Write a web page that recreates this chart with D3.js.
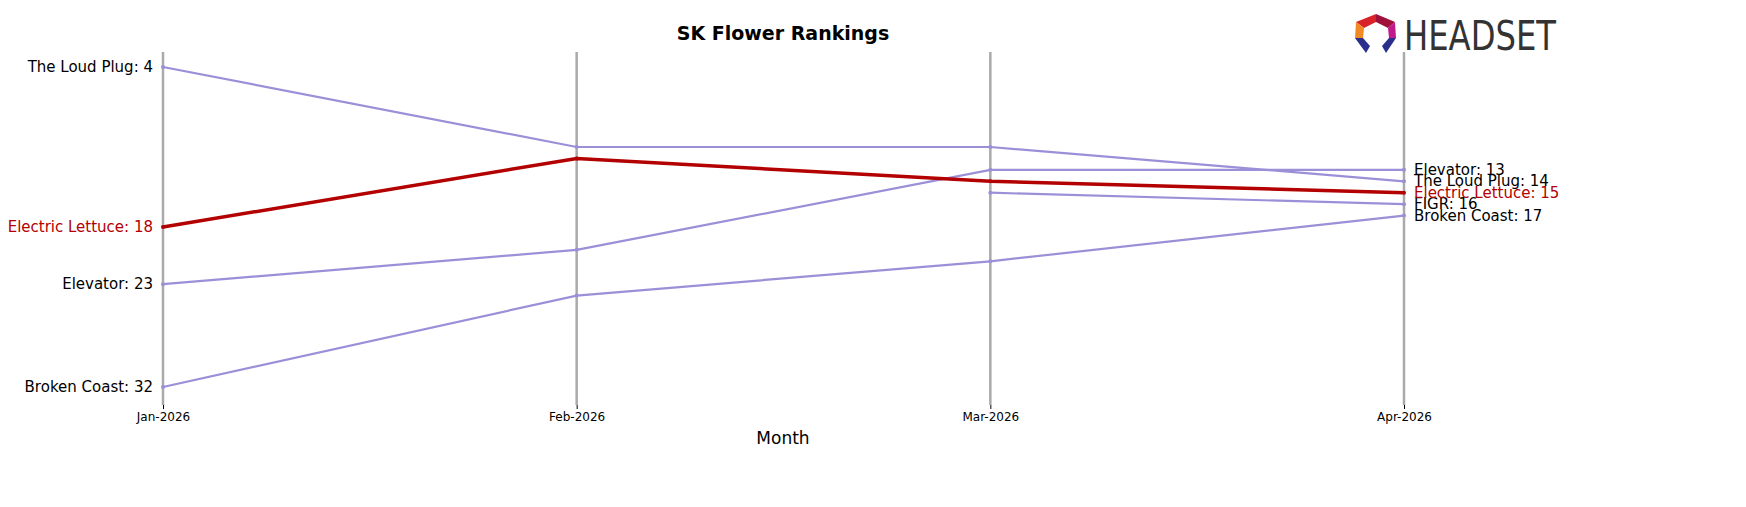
<!DOCTYPE html>
<html><head><meta charset="utf-8">
<script src="https://cdn.jsdelivr.net/npm/d3@7"></script>
<style>body{margin:0;background:#fff}svg{font-family:"DejaVu Sans",sans-serif}</style>
</head><body><svg id="c" width="1746" height="507"></svg>
<script>
const months = ["Jan-2026","Feb-2026","Mar-2026","Apr-2026"];
const loudPlug = [4, 11, 11, 14];
const electricLettuce = [18, 12, 14, 15];
const elevator = [23, 20, 13, 13];
const brokenCoast = [32, 24, 21, 17];
const figr = [null, null, 15, 16];
const series = [
  {name:"The Loud Plug", v:loudPlug, hl:false},
  {name:"Elevator", v:elevator, hl:false},
  {name:"Broken Coast", v:brokenCoast, hl:false},
  {name:"FIGR", v:figr, hl:false},
  {name:"Electric Lettuce", v:electricLettuce, hl:true}
];
const svg = d3.select("#c");
const x = d3.scalePoint().domain(months).range([163,1404]);
const y = d3.scaleLinear().domain([4,32]).range([67,387]);
const purple="#9b8fd8", red="#b30000";
months.forEach(m=>svg.append("line").attr("x1",x(m)).attr("x2",x(m)).attr("y1",52).attr("y2",405).attr("stroke","#aaa").attr("stroke-width",2.5));
const ax = svg.append("g").attr("transform","translate(0,405)").call(d3.axisBottom(x).tickSize(4));
ax.select(".domain").remove();
ax.selectAll("text").attr("font-size",12).attr("font-family","DejaVu Sans").attr("fill","#000");
svg.append("text").attr("x",783).attr("y",444).attr("text-anchor","middle").attr("font-size",17).text("Month");
svg.append("text").attr("x",783).attr("y",40).attr("text-anchor","middle").attr("font-size",19).attr("font-weight","bold").text("SK Flower Rankings");
const line = d3.line().defined(d=>d.r!=null).x(d=>x(d.m)).y(d=>y(d.r));
series.forEach(s=>{
  const pts = s.v.map((r,i)=>({m:months[i],r}));
  const c = s.hl?red:purple;
  svg.append("path").attr("d",line(pts)).attr("fill","none").attr("stroke",c).attr("stroke-width",s.hl?3.5:2.2);
  pts.filter(d=>d.r!=null).forEach(d=>svg.append("circle").attr("cx",x(d.m)).attr("cy",y(d.r)).attr("r",2).attr("fill",c));
  if(s.v[0]!=null) svg.append("text").attr("x",153).attr("y",y(s.v[0])+5).attr("text-anchor","end").attr("font-size",15).attr("fill",s.hl?red:"#000").text(`${s.name}: ${s.v[0]}`);
  svg.append("text").attr("x",1414).attr("y",y(s.v[3])+5).attr("font-size",15).attr("fill",s.hl?red:"#000").text(`${s.name}: ${s.v[3]}`);
});
// logo
const g = svg.append("g").attr("transform","translate(1376,33)");
g.append("polygon").attr("points","-20,-11 0,-19 0,-11 -12,-5").attr("fill","#d8232a");
g.append("polygon").attr("points","0,-19 19,-11 12,-5 0,-11").attr("fill","#a0103a");
g.append("polygon").attr("points","19,-11 20,5 13,5 12,-5").attr("fill","#c21a8a");
g.append("polygon").attr("points","-20,-11 -12,-5 -13,5 -21,5").attr("fill","#f08a24");
g.append("polygon").attr("points","-21,5 -13,5 -6,13 -10,20").attr("fill","#2b2f8c");
g.append("polygon").attr("points","20,5 13,5 6,13 10,20").attr("fill","#2b2f8c");
svg.append("text").attr("x",1404).attr("y",50).attr("font-size",40).attr("font-family","Liberation Sans Narrow, DejaVu Sans Condensed, sans-serif").attr("fill","#333").attr("textLength",152).attr("lengthAdjust","spacingAndGlyphs").text("HEADSET");
</script></body></html>
